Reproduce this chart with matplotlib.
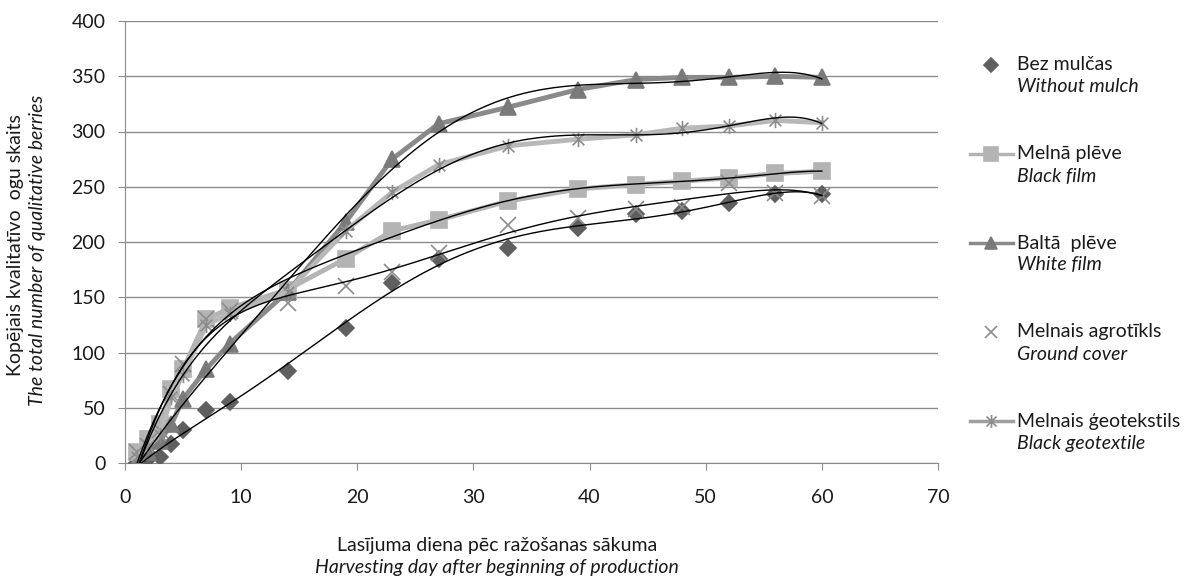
import numpy as np
import matplotlib.pyplot as plt
from matplotlib.path import Path

plt.rcParams['font.family'] = ['Lato', 'DejaVu Sans']

# harvesting days
days = [1, 2, 3, 4, 5, 7, 9, 14, 19, 23, 27, 33, 39, 44, 48, 52, 56, 60]

# cumulative number of berries
no_mulch = [0, 4, 5, 17, 30, 48, 55, 83, 122, 163, 185, 195, 213, 225, 228, 235, 243, 243]
black_film = [10, 22, 35, 67, 85, 130, 140, 157, 185, 210, 220, 237, 248, 252, 255, 258, 262, 264]
white_film = [0, 10, 20, 35, 58, 85, 108, 155, 218, 275, 307, 322, 338, 347, 349, 349, 350, 349]
ground_cover = [10, 15, 30, 62, 90, 130, 138, 145, 160, 173, 190, 215, 222, 230, 232, 253, 244, 242]
geotextile = [5, 15, 25, 60, 80, 125, 135, 155, 210, 245, 270, 287, 293, 297, 303, 305, 310, 308]

labels_lv = ["Bez mulčas", "Melnā plēve", "Baltā  plēve", "Melnais agrotīkls", "Melnais ģeotekstils"]
labels_en = ["Without mulch", "Black film", "White film", "Ground cover", "Black geotextile"]

# excel-like star: an X with a vertical bar
star = Path([(-1, -1), (1, 1), (-1, 1), (1, -1), (0, -1.3), (0, 1.3)],
            [Path.MOVETO, Path.LINETO, Path.MOVETO, Path.LINETO, Path.MOVETO, Path.LINETO])

# style per series: (marker, marker colour, line colour or None, marker size)
styles = [
    ('D', '#5f5f5f', None, 8),
    ('s', '#b4b4b4', '#b4b4b4', 12),
    ('^', '#7a7a7a', '#8a8a8a', 11),
    ('x', '#8c8c8c', None, 11),
    (star, '#8c8c8c', '#b8b8b8', 11),
]
series = [no_mulch, black_film, white_film, ground_cover, geotextile]

fig = plt.figure(figsize=(11.88, 5.78), dpi=100)
ax = fig.add_axes([125 / 1188, 1 - 463 / 578, (938 - 125) / 1188, (463 - 21) / 578])

x = np.array(days, dtype=float)
xs = np.linspace(1, 60, 300)
for vals, (mk, mc, lc, ms) in zip(series, styles):
    if lc is None:
        ax.plot(x, vals, linestyle='none', marker=mk, color=mc, markersize=ms,
                markeredgewidth=1.2, zorder=3)
    else:
        ax.plot(x, vals, color=lc, lw=3.5, marker=mk, markerfacecolor=mc,
                markeredgecolor=mc, markersize=ms, markeredgewidth=1.2, zorder=3)
    # polynomial trend line (order 6, like the spreadsheet)
    coef = np.polyfit(x, vals, 6)
    ax.plot(xs, np.polyval(coef, xs), color='black', lw=1.0, zorder=4)

ax.set_xlim(0, 70)
ax.set_ylim(0, 400)
ax.set_xticks(range(0, 71, 10))
ax.set_yticks(range(0, 401, 50))
ax.grid(axis='y', color='#8c8c8c', lw=1)
ax.set_axisbelow(True)
for s in ['top', 'right']:
    ax.spines[s].set_visible(False)
for s in ['left', 'bottom']:
    ax.spines[s].set_color('#8c8c8c')
ax.tick_params(axis='both', colors='#8c8c8c', labelcolor='#1a1a1a', labelsize=14,
               length=5, direction='out')
ax.tick_params(axis='x', pad=14)
ax.tick_params(axis='y', pad=9)

fs = 14
# axis titles
fig.text(497 / 1188, 1 - 545 / 578, "Lasījuma diena pēc ražošanas sākuma",
         ha='center', va='center', fontsize=fs, color='#1a1a1a')
fig.text(497 / 1188, 1 - 567 / 578, "Harvesting day after beginning of production",
         ha='center', va='center', fontsize=fs, style='italic', color='#1a1a1a')
fig.text(16 / 1188, 1 - 245 / 578, "Kopējais kvalitatīvo  ogu skaits",
         ha='center', va='center', rotation=90, fontsize=fs, color='#1a1a1a')
fig.text(38 / 1188, 1 - 250 / 578, "The total number of qualitative berries",
         ha='center', va='center', rotation=90, fontsize=fs, style='italic', color='#1a1a1a')

# legend drawn by hand
lax = fig.add_axes([0, 0, 1, 1])
lax.set_xlim(0, 1188)
lax.set_ylim(578, 0)
lax.axis('off')
ys = [65, 154, 243, 332, 421]
for yy, (mk, mc, lc, ms), lv, en in zip(ys, styles, labels_lv, labels_en):
    if lc is not None:
        lax.plot([970, 1013], [yy, yy], color=lc if lc != '#b8b8b8' else '#a0a0a0', lw=2.5)
    lax.plot([991], [yy], marker=mk, color=mc, markersize=ms * 0.85, markeredgewidth=1.2)
    lax.text(1017, yy, lv, va='center', ha='left', fontsize=fs, color='#1a1a1a')
    lax.text(1017, yy + 22, en, va='center', ha='left', fontsize=fs, style='italic',
             color='#1a1a1a')

fig.savefig('out.png', dpi=100)
